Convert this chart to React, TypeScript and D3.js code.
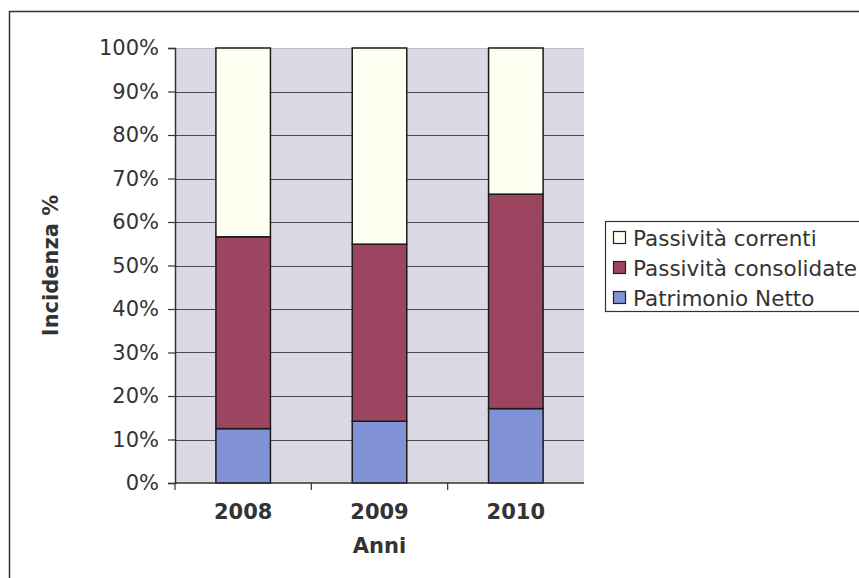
import React, { useEffect, useRef } from 'react';
import * as d3 from 'd3';

// years on the x axis
const anni = ['2008', '2009', '2010'];
// percentages (bottom to top)
const patrimonioNetto = [12.5, 14.2, 17.1];
const passivitaConsolidate = [44.1, 40.7, 49.3];
const passivitaCorrenti = [43.4, 45.1, 33.6];
const yTicks = [0, 10, 20, 30, 40, 50, 60, 70, 80, 90, 100];

const seriesNames = ['Patrimonio Netto', 'Passività consolidate', 'Passività correnti'];
const seriesColors = ['#8193d6', '#9c4560', '#fffff2'];

function App() {
    const svgRef = useRef<SVGSVGElement>(null);

    useEffect(() => {
        const width = 859;
        const height = 578;
        const margin = { top: 48, left: 175, right: 275, bottom: 95 };
        const font = 'DejaVu Sans, Verdana, sans-serif';

        const svg = d3.select(svgRef.current)
            .attr('width', width)
            .attr('height', height);
        svg.selectAll('*').remove();

        svg.append('rect').attr('width', width).attr('height', height).attr('fill', '#ffffff');

        // outer chart frame (runs off the right and bottom of the scan)
        svg.append('rect')
            .attr('x', 9.5).attr('y', 11.5)
            .attr('width', 900).attr('height', 700)
            .attr('fill', 'none').attr('stroke', '#333').attr('stroke-width', 1.5);

        const table = anni.map((a, i) => ({
            anno: a,
            'Patrimonio Netto': patrimonioNetto[i],
            'Passività consolidate': passivitaConsolidate[i],
            'Passività correnti': passivitaCorrenti[i],
        }));
        const stacked = d3.stack<any>().keys(seriesNames)(table);

        const x = d3.scaleBand().domain(anni)
            .range([margin.left, width - margin.right])
            .paddingInner(0.6).paddingOuter(0.3);
        const y = d3.scaleLinear().domain([0, 100])
            .range([height - margin.bottom, margin.top]);

        const x0 = margin.left;
        const x1 = width - margin.right;

        // plot background
        svg.append('rect')
            .attr('x', x0).attr('y', y(100))
            .attr('width', x1 - x0).attr('height', y(0) - y(100))
            .attr('fill', '#dcd9e6');

        // gridlines
        svg.append('g').selectAll('line')
            .data(yTicks.filter(t => t > 0))
            .join('line')
            .attr('x1', x0).attr('x2', x1)
            .attr('y1', d => Math.round(y(d)) + 0.5).attr('y2', d => Math.round(y(d)) + 0.5)
            .attr('stroke', d => d === 100 ? '#b9b6c8' : '#4a4a4a')
            .attr('stroke-width', 1.2);

        // bars
        svg.append('g').selectAll('g')
            .data(stacked)
            .join('g')
            .attr('fill', (_, i) => seriesColors[i])
            .selectAll('rect')
            .data(d => d)
            .join('rect')
            .attr('x', d => x(d.data.anno)!)
            .attr('y', d => y(d[1]))
            .attr('width', x.bandwidth())
            .attr('height', d => y(d[0]) - y(d[1]))
            .attr('stroke', '#1a1a1a')
            .attr('stroke-width', 1.5);

        // y axis
        const yAxis = svg.append('g')
            .attr('transform', `translate(${x0},0)`)
            .call(d3.axisLeft(y).tickValues(yTicks).tickSize(7).tickFormat(d => `${d}%`));
        yAxis.select('.domain').attr('stroke', '#333').attr('stroke-width', 1.5);
        yAxis.selectAll('.tick line').attr('stroke', '#333').attr('stroke-width', 1.2);
        yAxis.selectAll('.tick text')
            .attr('x', -16)
            .attr('fill', '#333')
            .style('font-family', font)
            .style('font-size', '21px');

        // x axis: ticks between categories
        const bounds = [0, 1, 2].map(i => x0 + i * (x1 - x0) / 3);
        svg.append('line')
            .attr('x1', x0).attr('x2', x1)
            .attr('y1', y(0)).attr('y2', y(0))
            .attr('stroke', '#333').attr('stroke-width', 1.5);
        svg.append('g').selectAll('line')
            .data(bounds)
            .join('line')
            .attr('x1', d => d).attr('x2', d => d)
            .attr('y1', y(0)).attr('y2', y(0) + 7)
            .attr('stroke', '#333').attr('stroke-width', 1.2);
        svg.append('g').selectAll('text')
            .data(anni)
            .join('text')
            .attr('x', d => x(d)! + x.bandwidth() / 2)
            .attr('y', y(0) + 36)
            .attr('text-anchor', 'middle')
            .attr('fill', '#333')
            .style('font-family', font)
            .style('font-size', '21px')
            .style('font-weight', 'bold')
            .text(d => d);

        // axis titles
        svg.append('text')
            .attr('x', (x0 + x1) / 2)
            .attr('y', y(0) + 70)
            .attr('text-anchor', 'middle')
            .attr('fill', '#333')
            .style('font-family', font)
            .style('font-size', '21px')
            .style('font-weight', 'bold')
            .text('Anni');
        svg.append('text')
            .attr('transform', `translate(58,${(y(0) + y(100)) / 2}) rotate(-90)`)
            .attr('text-anchor', 'middle')
            .attr('fill', '#333')
            .style('font-family', font)
            .style('font-size', '21px')
            .style('font-weight', 'bold')
            .text('Incidenza %');

        // legend (runs off the right edge)
        const legend = svg.append('g').attr('transform', 'translate(605,221)');
        legend.append('rect')
            .attr('x', 0.5).attr('y', 0.5).attr('width', 300).attr('height', 90)
            .attr('fill', '#fff').attr('stroke', '#333').attr('stroke-width', 1.2);
        const order = [2, 1, 0];
        const items = legend.selectAll('g.item')
            .data(order)
            .join('g')
            .attr('class', 'item')
            .attr('transform', (_, i) => `translate(8,${17 + i * 30})`);
        items.append('rect')
            .attr('x', 0.5).attr('y', -6.5).attr('width', 12).attr('height', 12)
            .attr('fill', d => seriesColors[d])
            .attr('stroke', '#222').attr('stroke-width', 1.2);
        items.append('text')
            .attr('x', 20).attr('y', 8)
            .attr('fill', '#333')
            .style('font-family', font)
            .style('font-size', '21.5px')
            .text(d => seriesNames[d]);
    }, []);

    return (
        <svg ref={svgRef} style={{ position: 'absolute', left: 0, top: 0 }}></svg>
    );
}

export default App;
